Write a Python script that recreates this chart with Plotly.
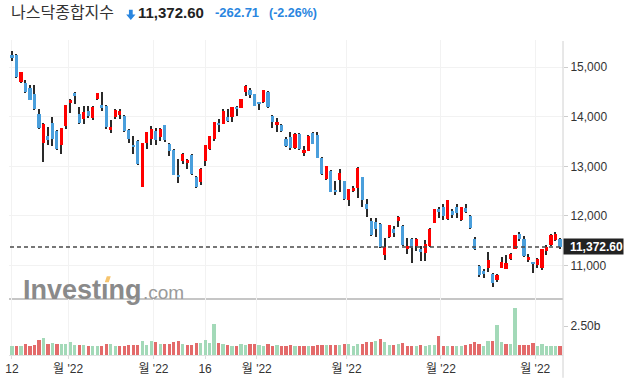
import plotly.graph_objects as go

# ---------------- data (Nasdaq Composite, daily) ----------------
dates = (
    ["2022-01-%02d" % d for d in [12, 13, 14, 18, 19, 20, 21, 24, 25, 26, 27, 28, 31]]
    + ["2022-02-%02d" % d for d in [1, 2, 3, 4, 7, 8, 9, 10, 11, 14, 15, 16, 17, 18, 22, 23, 24, 25, 28]]
    + ["2022-03-%02d" % d for d in [1, 2, 3, 4, 7, 8, 9, 10, 11, 14, 15, 16, 17, 18, 21, 22, 23, 24, 25, 28, 29, 30, 31]]
    + ["2022-04-%02d" % d for d in [1, 4, 5, 6, 7, 8, 11, 12, 13, 14, 18, 19, 20, 21, 22, 25, 26, 27, 28, 29]]
    + ["2022-05-%02d" % d for d in [2, 3, 4, 5, 6, 9, 10, 11, 12, 13, 16, 17, 18, 19, 20, 23, 24, 25, 26, 27, 31]]
    + ["2022-06-%02d" % d for d in [1, 2, 3, 6, 7, 8, 9, 10, 13, 14, 15, 16, 17, 21, 22, 23, 24, 27, 28, 29, 30]]
    + ["2022-07-%02d" % d for d in [1, 5, 6, 7, 8, 11]]
)

open_ = [15250, 15250, 14705, 14690, 14585, 14465, 14050, 13470, 13605, 13870,
         13705, 13437, 13817, 14270, 14490, 14050, 13960, 14110, 13980, 14357,
         14230, 14210, 13735, 13990, 14040, 14010, 13723, 13430, 13510, 12590,
         13470, 13543, 13710, 13590, 13830, 13450, 13330, 12825, 13117, 13070,
         13230, 12790, 12677, 13103, 13350, 13557, 13870, 13857, 13990, 13997,
         14205, 14183, 14497, 14550, 14450, 14280, 14297, 14497, 14010, 13837,
         13830, 13550, 13583, 13377, 13650, 13277, 13310, 13663, 13630, 13170,
         12737, 12903, 12530, 12717, 12710, 12317, 12497, 12570, 12783, 12243,
         11903, 11883, 11830, 11203, 11563, 11730, 11897, 11797, 11337, 11530,
         11397, 11330, 11250, 11397, 11857, 12130, 12170, 11937, 12097, 12183,
         11917, 12150, 12003, 11537, 10977, 10890, 10950, 10817, 10697, 10950,
         10930, 11130, 11337, 11643, 11530, 11117, 11050, 11003, 10950, 11297,
         11417, 11503, 11530]
high = [15320, 15270, 14895, 14745, 14640, 14645, 14165, 13865, 13785, 14002,
        13730, 13771, 14242, 14350, 14510, 14205, 14225, 14225, 14225, 14490,
        14505, 14243, 13925, 14150, 14163, 14030, 13763, 13605, 13530, 13480,
        13695, 13817, 13777, 13777, 13830, 13470, 13350, 13150, 13270, 13150,
        13250, 12803, 12963, 13437, 13615, 13895, 13950, 14163, 14157, 14192,
        14210, 14355, 14650, 14583, 14450, 14303, 14535, 14517, 14030, 13970,
        13850, 13583, 13683, 13663, 13663, 13403, 13625, 13683, 13697, 13183,
        13005, 12917, 12710, 12950, 12710, 12540, 12595, 12983, 12783, 12343,
        11950, 11950, 11850, 11550, 11817, 11803, 11990, 11817, 11550, 11550,
        11550, 11390, 11503, 11745, 12131, 12183, 12237, 12317, 12130, 12237,
        12183, 12237, 12017, 11563, 11003, 10930, 11263, 10837, 10817, 11163,
        11217, 11250, 11617, 11683, 11597, 11230, 11070, 11150, 11322, 11403,
        11625, 11683, 11550]
low = [15120, 14780, 14680, 14477, 14330, 14140, 13745, 13095, 13430, 13410,
       13320, 13243, 13757, 14083, 14265, 13857, 13850, 13970, 13935, 14337,
       14117, 13750, 13665, 13957, 13950, 13697, 13463, 13245, 13023, 12587,
       13357, 13437, 13437, 13517, 13483, 13217, 12817, 12663, 13037, 12937,
       12823, 12563, 12617, 13003, 13323, 13517, 13683, 13850, 13897, 13897,
       14017, 14170, 14417, 14370, 14217, 14143, 14283, 14177, 13783, 13683,
       13683, 13397, 13323, 13350, 13330, 13217, 13300, 13450, 13163, 12817,
       12717, 12477, 12423, 12483, 12317, 12203, 12480, 12363, 12183, 11983,
       11597, 11563, 11350, 11103, 11550, 11570, 11770, 11383, 11230, 11043,
       11283, 11090, 11083, 11363, 11850, 11950, 11917, 11917, 11963, 11963,
       11897, 12050, 11737, 11303, 10763, 10750, 10870, 10565, 10670, 10937,
       10917, 11117, 11330, 11497, 11163, 11070, 10843, 10950, 10910, 11217,
       11397, 11483, 11330]
close = [15188, 14807, 14894, 14507, 14340, 14154, 13769, 13855, 13539, 13542,
         13353, 13771, 14240, 14346, 14418, 13879, 14098, 14016, 14194, 14490,
         14186, 13791, 13791, 14140, 14124, 13717, 13548, 13382, 13037, 13474,
         13695, 13751, 13532, 13752, 13538, 13313, 12831, 12795, 13256, 13130,
         12844, 12581, 12949, 13437, 13615, 13894, 13838, 14109, 13923, 14192,
         14169, 14355, 14620, 14442, 14221, 14262, 14533, 14204, 13889, 13897,
         13711, 13412, 13372, 13644, 13351, 13332, 13620, 13453, 13175, 12839,
         13005, 12491, 12489, 12872, 12335, 12536, 12564, 12965, 12318, 12145,
         11623, 11738, 11364, 11371, 11805, 11663, 11985, 11418, 11389, 11355,
         11535, 11264, 11435, 11741, 12131, 12081, 11994, 12317, 12013, 12061,
         12175, 12086, 11754, 11340, 10809, 10828, 11099, 10646, 10798, 11069,
         11053, 11232, 11608, 11525, 11182, 11178, 11029, 11128, 11322, 11362,
         11621, 11635.31, 11372.60]
# volume as drawn on the chart (billions)
volume = [0.78, 0.78, 0.86, 1.03, 0.86, 0.95, 1.32, 1.49, 1.03, 1.12,
          1.03, 1.03, 1.03, 1.21, 0.95, 0.95, 0.95, 0.86, 0.86, 0.86,
          0.86, 1.03, 1.03, 0.86, 0.78, 0.86, 0.95, 0.95, 0.95, 1.29,
          0.95, 1.26, 1.21, 1.03, 1.03, 1.03, 1.21, 1.29, 1.03, 0.95,
          0.95, 1.12, 1.12, 1.35, 1.12, 2.78, 1.12, 1.03, 0.95, 0.86,
          0.86, 1.03, 0.95, 1.03, 1.03, 0.95, 0.86, 1.03, 0.86, 0.95,
          0.86, 0.86, 0.95, 0.86, 0.86, 0.78, 0.86, 0.86, 0.95, 0.95,
          0.95, 0.95, 0.95, 0.95, 1.03, 1.03, 0.86, 1.03, 1.03, 1.21,
          1.21, 1.26, 1.41, 1.21, 0.95, 0.95, 1.03, 1.12, 0.86, 0.86,
          0.86, 0.95, 0.86, 0.95, 0.95, 1.72, 0.86, 0.86, 0.78, 0.86,
          0.86, 0.95, 1.03, 1.21, 1.03, 0.86, 1.23, 1.23, 2.67, 1.15,
          1.03, 1.03, 4.16, 0.95, 0.95, 0.95, 1.12, 0.86, 1.03, 0.86,
          0.86, 0.86, 0.78]

tick_pos = [0, 12.5, 31.5, 43, 54.5, 74.5, 95.5, 116.5]
tick_text = ["12", "월 '22", "월 '22", "16", "월 '22", "월 '22", "월 '22", "월 '22"]
price_ticks = [11000, 12000, 13000, 14000, 15000]
vol_ticks = [2.5]
vol_tick_text = ["2.50b"]
title_text = "나스닥종합지수"

# ---------------- styling ----------------
UP = "#ff0000"
DOWN = "#4a9fdc"
VUP = "#a3d9b8"
VDOWN = "#e36a6a"
FONT = "Liberation Sans, Arial, Noto Sans CJK KR, sans-serif"

n = len(close)
xs = list(range(n))
body_base = [min(o, c) for o, c in zip(open_, close)]
body_h = [max(abs(c - o), 15) for o, c in zip(open_, close)]
body_col = [UP if c >= o else DOWN for o, c in zip(open_, close)]
wick_h = [h - l for h, l in zip(high, low)]
vol_col = [VUP] + [VUP if close[i] >= close[i - 1] else VDOWN for i in range(1, n)]

# plot geometry (pixels)
W, H = 628, 381
L, R, T, B = 5, 65, 40, 23
pw, ph = W - L - R, H - T - B
def PX(x):
    return (x - L) / pw
def PY(y):
    return (H - B - y) / ph

xr = [-0.663, 122.68]
split = PY(300)

fig = go.Figure()
fig.add_trace(go.Bar(x=xs, y=wick_h, base=low, width=0.24, marker=dict(color="#2a2a2a", line=dict(width=0)),
                     xaxis="x", yaxis="y", hoverinfo="skip"))
fig.add_trace(go.Bar(x=xs, y=body_h, base=body_base, width=0.7, marker=dict(color=body_col, line=dict(width=0)),
                     xaxis="x", yaxis="y", customdata=dates))
fig.add_trace(go.Bar(x=xs, y=volume, width=0.72, marker=dict(color=vol_col, line=dict(width=0)),
                     xaxis="x2", yaxis="y2"))

last = close[-1]
chg = close[-1] - close[-2]
pct = chg / close[-2] * 100

fig.update_layout(
    width=W, height=H, margin=dict(l=L, r=R, t=T, b=B),
    paper_bgcolor="white", plot_bgcolor="white", showlegend=False,
    barmode="overlay", bargap=0,
    font=dict(family=FONT, color="#333", size=12),
    xaxis=dict(domain=[0, 1], range=xr, anchor="y", tickvals=tick_pos, showticklabels=False,
               showgrid=True, gridcolor="#f2f2f2", gridwidth=1, zeroline=False,
               showline=True, linecolor="#c6c6c6", linewidth=1.5, ticks=""),
    xaxis2=dict(domain=[0, 1], range=xr, anchor="y2", matches="x", tickvals=tick_pos, ticktext=tick_text,
                showgrid=True, gridcolor="#f2f2f2", zeroline=False, showline=True, linecolor="#e2e2e2",
                ticks="outside", ticklen=3, tickcolor="#dddddd",
                tickfont=dict(family=FONT, size=12, color="#333")),
    yaxis=dict(domain=[split, 1], range=[10350, 15550], side="right", tickvals=price_ticks, tickformat=",d",
               showgrid=True, gridcolor="#f2f2f2", zeroline=False, showline=False,
               ticks="outside", ticklen=4, tickcolor="#cccccc",
               tickfont=dict(family=FONT, size=12, color="#333")),
    yaxis2=dict(domain=[0, split], range=[0, 5.0], side="right", tickvals=vol_ticks, ticktext=vol_tick_text,
                showgrid=False, zeroline=False, showline=False,
                ticks="outside", ticklen=4, tickcolor="#cccccc",
                tickfont=dict(family=FONT, size=12, color="#333")),
)

shapes = [
    # right axis line through both panes
    dict(type="line", xref="paper", yref="paper", x0=1, x1=1, y0=PY(381), y1=PY(41),
         line=dict(color="#d0d0d0", width=1)),
    # last price dashed line
    dict(type="line", xref="paper", yref="y", x0=PX(6), x1=1, y0=last, y1=last,
         line=dict(color="#4a4a4a", width=1.5, dash="4px,3px")),
    # down arrow in header
    dict(type="path", xref="paper", yref="paper", line=dict(width=0), fillcolor="#2a86e0",
         path="M %f,%f L %f,%f L %f,%f L %f,%f L %f,%f L %f,%f L %f,%f Z" % (
             PX(125.8), PY(9.5), PX(129.6), PY(9.5), PX(129.6), PY(14.2), PX(132.4), PY(14.2),
             PX(127.7), PY(19.8), PX(123.0), PY(14.2), PX(125.8), PY(14.2))),
    # orange dot of the watermark "i"
    dict(type="path", xref="paper", yref="paper", line=dict(width=0), fillcolor="#f6c46e", layer="above",
         path="M %f,%f L %f,%f L %f,%f L %f,%f Z" % (
             PX(101.5), PY(284.5), PX(105.5), PY(284.5), PX(107.5), PY(278.5), PX(103.5), PY(278.5))),
]
fig.update_layout(shapes=shapes)

ann = [
    dict(xref="paper", yref="paper", x=PX(5), y=PY(12), xanchor="left", yanchor="middle", showarrow=False,
         text=title_text, font=dict(family=FONT, size=16, color="#333")),
    dict(xref="paper", yref="paper", x=PX(133), y=PY(12.5), xanchor="left", yanchor="middle", showarrow=False,
         text="<b>%s</b>" % format(last, ",.2f"), font=dict(family=FONT, size=15, color="#222")),
    dict(xref="paper", yref="paper", x=PX(210), y=PY(12.5), xanchor="left", yanchor="middle", showarrow=False,
         text="<b>%s</b>" % format(chg, ".2f"), font=dict(family=FONT, size=13, color="#2a86e0")),
    dict(xref="paper", yref="paper", x=PX(265), y=PY(12.5), xanchor="left", yanchor="middle", showarrow=False,
         text="<b>(%s%%)</b>" % format(pct, ".2f"), font=dict(family=FONT, size=12.5, color="#2a86e0")),
    # last price label
    dict(xref="paper", yref="y", x=1, y=last, xanchor="left", yanchor="middle", showarrow=False,
         text="<b>%s</b>" % format(last, ",.2f"), font=dict(family=FONT, size=12, color="white"),
         bgcolor="#222222", width=59, height=15, align="right", borderpad=0),
    # watermark (dotless i, orange dot drawn as a shape)
    dict(xref="paper", yref="paper", x=PX(17), y=PY(292), xanchor="left", yanchor="middle", showarrow=False,
         text="<b>Invest\u0131ng</b>", font=dict(family=FONT, size=27, color="#8a8a8a")),
    dict(xref="paper", yref="paper", x=PX(138), y=PY(295), xanchor="left", yanchor="middle", showarrow=False,
         text=".com", font=dict(family=FONT, size=19, color="#9a9a9a")),
]
fig.update_layout(annotations=ann)

fig.write_html("out.html", config={"displayModeBar": False},
               post_script="document.body.style.margin='0';document.body.style.padding='0';")
